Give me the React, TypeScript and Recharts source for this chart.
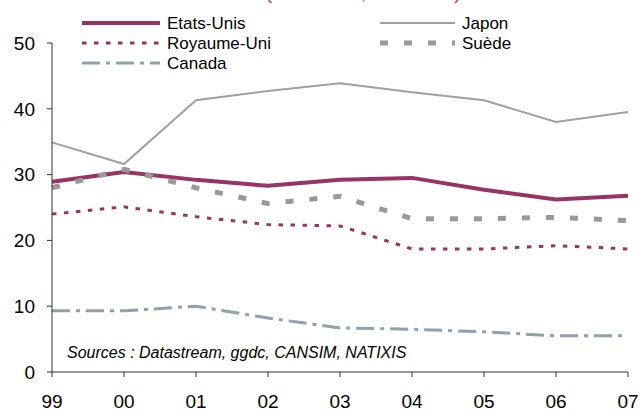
import { LineChart, Line, XAxis, YAxis } from 'recharts'

const years = ['99', '00', '01', '02', '03', '04', '05', '06', '07']
const etatsUnis = [28.9, 30.4, 29.2, 28.3, 29.2, 29.5, 27.7, 26.2, 26.8]
const japon = [34.9, 31.6, 41.3, 42.7, 43.9, 42.5, 41.3, 38.0, 39.5]
const royaumeUni = [24.0, 25.1, 23.6, 22.4, 22.2, 18.7, 18.7, 19.2, 18.7]
const suede = [28.0, 30.8, 28.0, 25.6, 26.7, 23.3, 23.3, 23.5, 23.0]
const canada = [9.3, 9.3, 10.0, 8.2, 6.7, 6.5, 6.1, 5.5, 5.5]
const yTicks = [0, 10, 20, 30, 40, 50]

const data = years.map((year, i) => ({
  year,
  etatsUnis: etatsUnis[i],
  japon: japon[i],
  royaumeUni: royaumeUni[i],
  suede: suede[i],
  canada: canada[i],
}))

const font = '"Liberation Sans", Arial, sans-serif'

// styles per series, also reused by the hand-made legend
const series = [
  { key: 'canada', name: 'Canada', color: '#8da1ae', width: 3, dash: '18 6 4 6', col: 0, row: 2 },
  { key: 'royaumeUni', name: 'Royaume-Uni', color: '#993366', width: 3, dash: '4.5 7.5', col: 0, row: 1 },
  { key: 'japon', name: 'Japon', color: '#a0a0a0', width: 2, dash: undefined, col: 1, row: 0 },
  { key: 'etatsUnis', name: 'Etats-Unis', color: '#993366', width: 4, dash: undefined, col: 0, row: 0 },
  { key: 'suede', name: 'Suède', color: '#999999', width: 5, dash: '8 16', col: 1, row: 1 },
]

const legendCols = [{ x1: 82, x2: 160, tx: 167 }, { x1: 380, x2: 455, tx: 462 }]

function Overlay() {
  return (
    <svg width={641} height={410} style={{ position: 'absolute', left: 0, top: 0, pointerEvents: 'none' }}>
      {/* title sits mostly above the frame, as in the source image */}
      <text x={363} y={-1} textAnchor="middle" fill="#c0407f" fontSize={20} fontFamily={font}>
        (% du total, en valeur)
      </text>
      {series.map((s) => {
        const c = legendCols[s.col]
        const y = 23 + s.row * 20
        return (
          <g key={s.key}>
            <line x1={c.x1} x2={c.x2} y1={y} y2={y} stroke={s.color} strokeWidth={s.width} strokeDasharray={s.dash} />
            <text x={c.tx} y={y} dy="0.35em" fontSize={17} fontFamily={font} fill="#000">
              {s.name}
            </text>
          </g>
        )
      })}
      <text x={67} y={358} fontSize={16} fontStyle="italic" fontFamily={font} fill="#000">
        Sources : Datastream, ggdc, CANSIM, NATIXIS
      </text>
    </svg>
  )
}

export default function App() {
  return (
    <div style={{ position: 'absolute', left: 0, top: 0, width: 641, height: 410, background: '#fff', fontFamily: font }}>
      <LineChart width={641} height={410} data={data} margin={{ top: 43, right: 13, bottom: 8, left: 0 }}>
        <XAxis
          dataKey="year"
          interval={0}
          height={30}
          tickSize={5}
          tickMargin={18}
          stroke="#333"
          tick={{ fill: '#000', fontSize: 19, fontFamily: font }}
        />
        <YAxis
          yAxisId="l"
          domain={[0, 50]}
          ticks={yTicks}
          width={52}
          tickSize={5}
          tickMargin={12}
          stroke="#333"
          tick={{ fill: '#000', fontSize: 19, fontFamily: font }}
        />
        <YAxis yAxisId="r" orientation="right" domain={[0, 50]} ticks={yTicks} width={0} tickSize={5} tick={false} stroke="#333" />
        {series.map((s) => (
          <Line
            key={s.key}
            yAxisId="l"
            type="linear"
            dataKey={s.key}
            name={s.name}
            stroke={s.color}
            strokeWidth={s.width}
            strokeDasharray={s.dash}
            dot={false}
            activeDot={false}
            isAnimationActive={false}
          />
        ))}
      </LineChart>
      <Overlay />
    </div>
  )
}
